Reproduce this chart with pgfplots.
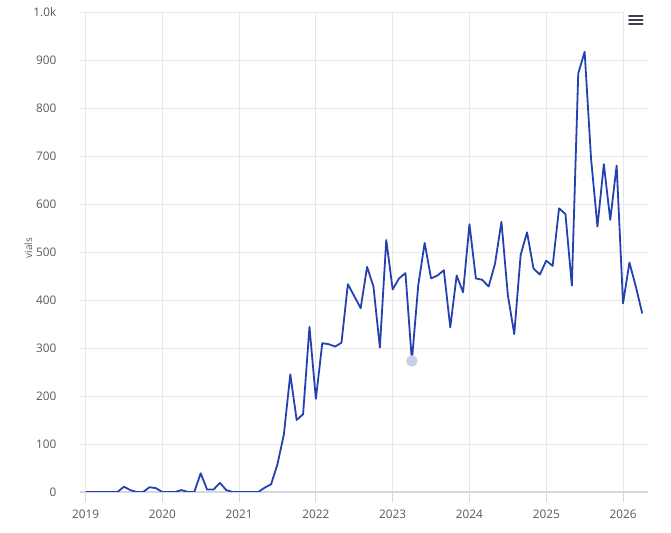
\documentclass[border=0pt]{standalone}
\usepackage{pgfplots}
\pgfplotsset{compat=1.18}
\usepackage{fontspec}
\setmainfont{Open Sans}
\definecolor{lineblue}{HTML}{2441B0}
\definecolor{hoverblue}{HTML}{C7CFEB}
\definecolor{gridgray}{HTML}{E8E8EC}
\definecolor{axisgray}{HTML}{D6D8DE}
\definecolor{labelgray}{HTML}{555A66}
\definecolor{icongray}{HTML}{3A4252}
\begin{document}
\begin{tikzpicture}
\useasboundingbox (0,0) rectangle (671bp,533bp);
\begin{axis}[
  at={(80bp,41bp)}, anchor=south west,
  scale only axis, width=568bp, height=480bp,
  xmin=-0.86, xmax=87.9, ymin=0, ymax=1000,
  axis line style={draw=none},
  xtick={0,12,...,84},
  xticklabels={2019,2020,2021,2022,2023,2024,2025,2026},
  ytick={0,100,...,1000},
  yticklabels={0,100,200,300,400,500,600,700,800,900,1.0k},
  xmajorgrids, ymajorgrids,
  grid style={draw=gridgray, line width=0.9bp},
  extra y ticks={0},
  extra y tick labels={},
  extra y tick style={grid style={draw=axisgray, line width=1.8bp}, ytick style={draw=none}},
  xtick pos=bottom, ytick pos=left,
  tick align=outside,
  xtick style={draw=axisgray, line width=0.9bp},
  ytick style={draw=none},
  major tick length=10bp,
  tick label style={font=\fontsize{11.8bp}{14bp}\selectfont, text=labelgray},
  yticklabel style={anchor=east, inner sep=0pt, xshift=-13.5bp},
  xticklabel style={anchor=north, inner sep=0pt, yshift=-8bp},
  ylabel={vials},
  ylabel style={at={(axis description cs:-0.0845,0.508)}, anchor=base, font=\fontsize{10bp}{12bp}\selectfont, text=labelgray},
]
\addplot[only marks, mark=*, mark size=5.5bp, color=hoverblue, mark options={draw=hoverblue, fill=hoverblue}] coordinates {(51,273)};
\addplot[lineblue, line width=1.8bp, line join=round] coordinates {
(0,0)(1,0)(2,0)(3,0)(4,0)(5,0)(6,11)(7,4)(8,0)(9,0)(10,10)(11,8)
(12,0)(13,0)(14,0)(15,4)(16,0)(17,0)(18,39)(19,5)(20,5)(21,19)(22,4)(23,0)
(24,0)(25,0)(26,0)(27,0)(28,9)(29,16)(30,58)(31,120)(32,245)(33,150)(34,162)(35,344)
(36,194)(37,310)(38,308)(39,303)(40,311)(41,433)(42,408)(43,383)(44,469)(45,428)(46,301)(47,525)
(48,422)(49,445)(50,456)(51,273)(52,431)(53,519)(54,445)(55,451)(56,462)(57,343)(58,451)(59,416)
(60,558)(61,445)(62,442)(63,428)(64,476)(65,563)(66,410)(67,329)(68,494)(69,541)(70,466)(71,453)
(72,482)(73,471)(74,591)(75,579)(76,430)(77,872)(78,917)(79,695)(80,553)(81,683)(82,567)(83,680)
(84,393)(85,478)(86,428)(87,372)
};
\end{axis}
\fill[white] (623.5bp,503bp) rectangle (671bp,533bp);
\draw[icongray, line width=2bp, line cap=round] (629bp,517bp) -- (642.5bp,517bp);
\draw[icongray, line width=2bp, line cap=round] (629bp,513bp) -- (642.5bp,513bp);
\draw[icongray, line width=2bp, line cap=round] (629bp,508.7bp) -- (642.5bp,508.7bp);
\end{tikzpicture}
\end{document}
